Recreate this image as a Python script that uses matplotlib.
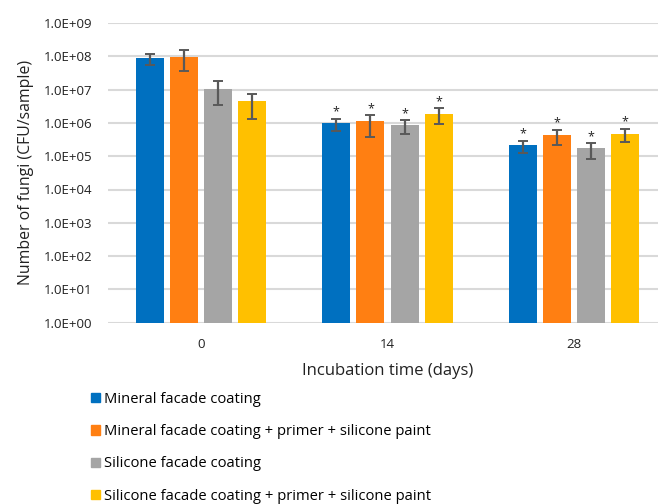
import numpy as np
import matplotlib
matplotlib.use("Agg")
import matplotlib.pyplot as plt
from matplotlib.patches import Patch

plt.rcParams['font.family'] = ['Open Sans', 'DejaVu Sans']

days = ['0', '14', '28']
series = ['Mineral facade coating',
          'Mineral facade coating + primer + silicone paint',
          'Silicone facade coating',
          'Silicone facade coating + primer + silicone paint']
colors = ['#0070C0', '#FF7F12', '#A5A5A5', '#FFC000']

# mean CFU per sample, one row per coating
means = [[9.1e7, 1.01e6, 2.2e5],
         [9.6e7, 1.12e6, 4.4e5],
         [1.05e7, 8.5e5, 1.74e5],
         [4.6e6, 1.9e6, 4.7e5]]
# error bar ends (low / high)
err_lo = [[5.5e7, 5.9e5, 1.29e5],
          [3.5e7, 3.9e5, 2.2e5],
          [3.5e6, 4.8e5, 8.1e4],
          [1.3e6, 9.5e5, 2.6e5]]
err_hi = [[1.2e8, 1.35e6, 2.95e5],
          [1.55e8, 1.74e6, 6.3e5],
          [1.8e7, 1.2e6, 2.5e5],
          [7.6e6, 2.76e6, 6.7e5]]
# significance marks shown for day 14 and 28
stars = [[False, True, True]] * 4

fig = plt.figure(figsize=(6.58, 5.04), dpi=100)
ax = fig.add_axes([108 / 658, (504 - 322.7) / 504, 559 / 658, 299.7 / 504])

x = np.arange(len(days))
w = 0.15
step = 0.183
for i in range(4):
    xi = x + (i - 1.5) * step
    m = np.array(means[i])
    lo = m - np.array(err_lo[i])
    hi = np.array(err_hi[i]) - m
    ax.bar(xi, m, width=w, color=colors[i], zorder=2, label=series[i])
    ax.errorbar(xi, m, yerr=[lo, hi], fmt='none', ecolor='#595959',
                elinewidth=1.6, capsize=3.5, capthick=1.4, zorder=3)
    for j in range(len(days)):
        if stars[i][j]:
            ax.annotate('*', (xi[j], err_hi[i][j]), xytext=(0, 0),
                        textcoords='offset points', ha='center', va='bottom',
                        fontsize=9, color='#222222')

ax.set_yscale('log')
ax.set_ylim(1, 1e9)
ax.set_xlim(-0.5, 2.5)
ax.set_yticks([10.0 ** k for k in range(10)])
ax.set_yticklabels(['1.0E+%02d' % k for k in range(10)])
ax.minorticks_off()
ax.yaxis.grid(True, color='#D9D9D9', linewidth=1.5, zorder=0)
ax.set_axisbelow(True)
for s in ax.spines.values():
    s.set_visible(False)
ax.tick_params(axis='y', length=0, pad=11, labelsize=9.5, labelcolor='#222222')
ax.tick_params(axis='x', length=0, pad=11, labelsize=9.5, labelcolor='#222222')
ax.set_xticks(x)
ax.set_xticklabels(days)

ax.set_xlabel('Incubation time (days)', fontsize=12, color='#222222', labelpad=9)
ax.set_ylabel('Number of fungi (CFU/sample)', fontsize=11.4, color='#222222', labelpad=7)

handles = [Patch(color=c) for c in colors]
fig.legend(handles, series, loc='upper left', bbox_to_anchor=(91 / 658, 1 - 392 / 504),
           frameon=False, fontsize=10.6, handlelength=0.6, handleheight=0.6,
           handletextpad=0.3, labelspacing=1.17, borderaxespad=0, borderpad=0)

fig.savefig('out.png', dpi=100)
